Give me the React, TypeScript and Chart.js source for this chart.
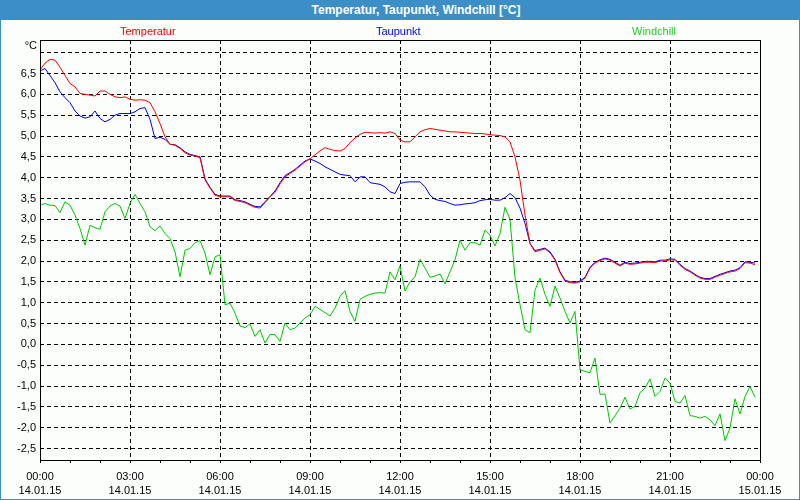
import React, { useEffect, useRef } from "react";
import { Chart, registerables } from "chart.js";

Chart.register(...registerables);

const FONT = "'Liberation Sans', Arial, sans-serif";

// reading times: minutes after 14.01.15 00:00, one reading every 10 minutes
const minutes: number[] = Array.from({ length: 144 }, (_, i) => i * 10);

const temperatur: number[] = [
  6.58, 6.75, 6.84, 6.82, 6.65, 6.45, 6.26, 6.18, 6.02, 6.0, 5.98, 5.96,
  6.08, 6.08, 6.0, 5.94, 5.92, 5.94, 5.88, 5.86, 5.87, 5.86, 5.8, 5.58,
  5.3, 4.98, 4.8, 4.78, 4.7, 4.6, 4.54, 4.52, 4.48, 3.95, 3.75, 3.58,
  3.54, 3.54, 3.54, 3.45, 3.43, 3.4, 3.34, 3.29, 3.27, 3.4, 3.53, 3.65,
  3.85, 4.02, 4.1, 4.18, 4.28, 4.38, 4.45, 4.55, 4.64, 4.72, 4.68, 4.65,
  4.64, 4.7, 4.84, 4.95, 5.04, 5.09, 5.08, 5.07, 5.08, 5.07, 5.1, 5.06,
  4.9, 4.86, 4.86, 4.98, 5.1, 5.15, 5.18, 5.16, 5.14, 5.12, 5.1, 5.1,
  5.09, 5.08, 5.07, 5.06, 5.06, 5.05, 5.03, 5.02, 5.01, 4.98, 4.86, 4.5,
  3.94, 3.1, 2.42, 2.22, 2.26, 2.29, 2.2, 2.02, 1.72, 1.52, 1.48, 1.47,
  1.5, 1.59, 1.83, 1.95, 2.01, 2.05, 2.02, 1.95, 1.88, 1.95, 1.92, 1.93,
  1.95, 1.97, 1.97, 1.96, 2.0, 2.0, 2.03, 2.02, 1.9, 1.8, 1.74, 1.66,
  1.59, 1.56, 1.56, 1.61, 1.66, 1.7, 1.74, 1.76, 1.82, 1.96, 1.95, 1.91,
];

const taupunkt: number[] = [
  6.56, 6.62, 6.45, 6.28, 6.06, 5.92, 5.8, 5.6, 5.48, 5.43, 5.46, 5.6,
  5.42, 5.34, 5.4, 5.5, 5.54, 5.54, 5.54, 5.58, 5.66, 5.68, 5.4, 4.94,
  4.97, 4.92, 4.8, 4.79, 4.72, 4.62, 4.56, 4.53, 4.5, 3.97, 3.77, 3.6,
  3.56, 3.56, 3.56, 3.47, 3.45, 3.42, 3.36, 3.31, 3.3, 3.42, 3.55, 3.68,
  3.88, 4.05, 4.12, 4.2, 4.3, 4.4, 4.45, 4.4, 4.34, 4.26, 4.2, 4.14,
  4.08, 4.06, 4.05, 3.9, 4.02, 4.02, 3.88, 3.86, 3.84, 3.78, 3.66, 3.62,
  3.86, 3.89, 3.9, 3.9, 3.9, 3.78, 3.58, 3.48, 3.45, 3.43, 3.38, 3.34,
  3.35, 3.37, 3.38, 3.4, 3.45, 3.47, 3.48, 3.46, 3.46, 3.52, 3.62, 3.52,
  3.27, 2.9, 2.42, 2.25, 2.28, 2.31, 2.22, 2.04, 1.74, 1.54, 1.5, 1.49,
  1.52, 1.61, 1.85, 1.97, 2.03, 2.07, 2.04, 1.97, 1.9, 1.97, 1.94, 1.95,
  1.97, 1.99, 1.99, 1.98, 2.02, 2.02, 2.05, 2.04, 1.92, 1.82, 1.76, 1.68,
  1.61, 1.58, 1.58, 1.63, 1.68, 1.72, 1.76, 1.78, 1.84, 1.98, 1.97, 1.95,
];

const windchill: number[] = [
  3.34, 3.38, 3.34, 3.33, 3.16, 3.42, 3.34, 3.1, 2.78, 2.38, 2.86, 2.8,
  2.76, 3.18, 3.32, 3.38, 3.32, 3.02, 3.38, 3.6, 3.38, 3.18, 2.82, 2.73,
  2.84, 2.66, 2.54, 2.22, 1.62, 2.26, 2.3, 2.44, 2.49, 2.19, 1.67, 2.1,
  2.15, 0.95, 0.99, 0.75, 0.44, 0.4, 0.49, 0.19, 0.35, 0.03, 0.24, 0.23,
  0.07, 0.51, 0.35, 0.39, 0.51, 0.63, 0.71, 0.91, 0.84, 0.76, 0.68, 0.87,
  1.15, 1.29, 0.79, 0.55, 1.08, 1.15, 1.2, 1.23, 1.24, 1.23, 1.74, 1.55,
  1.88, 1.28, 1.5, 1.62, 2.04, 1.83, 1.61, 1.64, 1.69, 1.45, 1.74, 2.03,
  2.5, 2.26, 2.44, 2.44, 2.38, 2.74, 2.62, 2.36, 2.66, 3.29, 3.0, 1.6,
  0.95, 0.35, 0.28, 1.3, 1.59, 1.2, 0.91, 1.4, 1.11, 0.79, 0.51, 0.79,
  -0.61, -0.65, -0.68, -0.33, -1.2, -1.19, -1.89, -1.71, -1.53, -1.27, -1.55, -1.49,
  -1.16, -1.05, -0.83, -1.25, -1.13, -0.81, -0.93, -1.37, -1.41, -1.23, -1.71, -1.73,
  -1.77, -1.73, -1.81, -1.95, -1.67, -2.31, -2.01, -1.31, -1.67, -1.25, -1.01, -1.27,
];

const seriesNames = ["Temperatur", "Taupunkt", "Windchill"];
const seriesColors = ["#ff0000", "#0000ff", "#00c800"];
const legendColors = ["#ff0000", "#0000ff", "#22cc22"];

const titleText = "Temperatur, Taupunkt, Windchill [°C]";
const unitText = "°C";

const yTicks = [-2.5, -2, -1.5, -1, -0.5, 0, 0.5, 1, 1.5, 2, 2.5, 3, 3.5, 4, 4.5, 5, 5.5, 6, 6.5, 7];
const yUnlabeled = [7];
const xTicks = [0, 60, 120, 180, 240, 300, 360, 420, 480, 540, 600, 660, 720, 780, 840, 900, 960, 1020, 1080, 1140, 1200, 1260, 1320, 1380, 1440];
const xLabelMinutes = [0, 180, 360, 540, 720, 900, 1080, 1260, 1440];
const xLabelTime = ["00:00", "03:00", "06:00", "09:00", "12:00", "15:00", "18:00", "21:00", "00:00"];
const xLabelDate = ["14.01.15", "14.01.15", "14.01.15", "14.01.15", "14.01.15", "14.01.15", "14.01.15", "14.01.15", "15.01.15"];

const BG = "#fcfefc";
const FRAME_BLUE = "#3c8fc6";

const decorPlugin = {
  id: "decor",
  beforeDraw(chart: any) {
    const ctx = chart.ctx;
    ctx.save();
    ctx.fillStyle = BG;
    ctx.fillRect(0, 0, chart.width, chart.height);
    ctx.restore();
  },
  afterDraw(chart: any) {
    const ctx = chart.ctx;
    const { left, top, right, bottom } = chart.chartArea;
    ctx.save();
    ctx.setLineDash([]);
    ctx.lineWidth = 1;
    ctx.strokeStyle = "#000000";
    ctx.strokeRect(left + 0.5, top + 0.5, right - left, bottom - top);
    ctx.font = `11px ${FONT}`;
    ctx.textBaseline = "middle";
    ctx.textAlign = "left";
    seriesNames.forEach((name, i) => {
      ctx.fillStyle = legendColors[i];
      ctx.fillText(name, 120 + 256 * i, 32);
    });
    ctx.fillStyle = "#000000";
    ctx.textAlign = "right";
    ctx.fillText(unitText, 37, 46);
    ctx.strokeStyle = FRAME_BLUE;
    ctx.strokeRect(0.5, 0.5, chart.width - 1, chart.height - 1);
    ctx.restore();
  },
};

export default function App() {
  const canvasRef = useRef<HTMLCanvasElement | null>(null);

  useEffect(() => {
    document.body.style.margin = "0";
    const canvas = canvasRef.current;
    if (!canvas) return;
    const series = [temperatur, taupunkt, windchill];
    const chart = new Chart(canvas, {
      type: "line",
      data: {
        datasets: series.map((vals, i) => ({
          label: seriesNames[i],
          data: vals.map((v, j) => ({ x: minutes[j], y: v })),
          borderColor: seriesColors[i],
          backgroundColor: seriesColors[i],
          borderWidth: 1,
          pointRadius: 0,
          tension: 0,
          fill: false,
        })),
      },
      options: {
        responsive: false,
        animation: false,
        devicePixelRatio: 1,
        layout: { padding: { top: 40, right: 40, left: 0, bottom: 0 } },
        plugins: {
          legend: { display: false },
          title: { display: false },
          tooltip: { enabled: false },
        },
        scales: {
          x: {
            type: "linear",
            min: 0,
            max: 1440,
            afterBuildTicks: (s: any) => {
              s.ticks = xTicks.map((v) => ({ value: v }));
            },
            afterFit: (s: any) => {
              s.height = 40;
            },
            ticks: {
              autoSkip: false,
              maxRotation: 0,
              minRotation: 0,
              color: "#000000",
              padding: 6,
              font: { family: FONT, size: 11, lineHeight: 1.36 },
              callback: (v: any) => {
                const i = xLabelMinutes.indexOf(Number(v));
                return i < 0 ? "" : [xLabelTime[i], xLabelDate[i]];
              },
            },
            grid: {
              color: (c: any) => {
                const v = c.tick ? c.tick.value : -1;
                return v % 180 === 0 && v !== 0 && v !== 1440 ? "#000000" : "rgba(0,0,0,0)";
              },
              tickColor: "#000000",
              tickLength: 3,
              tickBorderDash: [],
              lineWidth: 1,
            },
            border: { display: false, dash: [4, 3] },
          },
          y: {
            type: "linear",
            min: -2.776,
            max: 7.304,
            afterBuildTicks: (s: any) => {
              s.ticks = yTicks.map((v) => ({ value: v }));
            },
            afterFit: (s: any) => {
              s.width = 40;
            },
            ticks: {
              autoSkip: false,
              color: "#000000",
              padding: 4,
              font: { family: FONT, size: 11 },
              callback: (v: any) => {
                const n = Number(v);
                if (yUnlabeled.includes(n)) return "";
                return (Math.abs(n) < 1e-9 ? 0 : n).toFixed(1).replace(".", ",");
              },
            },
            grid: {
              color: "#000000",
              drawTicks: false,
              lineWidth: 1,
            },
            border: { display: false, dash: [4, 3] },
          },
        },
      },
      plugins: [decorPlugin],
    } as any);
    return () => chart.destroy();
  }, []);

  return (
    <div style={{ position: "relative", width: 800, height: 500, overflow: "hidden" }}>
      <canvas ref={canvasRef} width={800} height={500} style={{ display: "block", width: 800, height: 500 }} />
      <div
        style={{
          position: "absolute",
          left: 0,
          top: 0,
          width: 800,
          height: 20,
          boxSizing: "border-box",
          paddingLeft: 32,
          background: FRAME_BLUE,
          color: "#ffffff",
          fontFamily: FONT,
          fontWeight: "bold",
          fontSize: 12,
          lineHeight: "20px",
          textAlign: "center",
          whiteSpace: "nowrap",
        }}
      >
        {titleText}
      </div>
    </div>
  );
}
